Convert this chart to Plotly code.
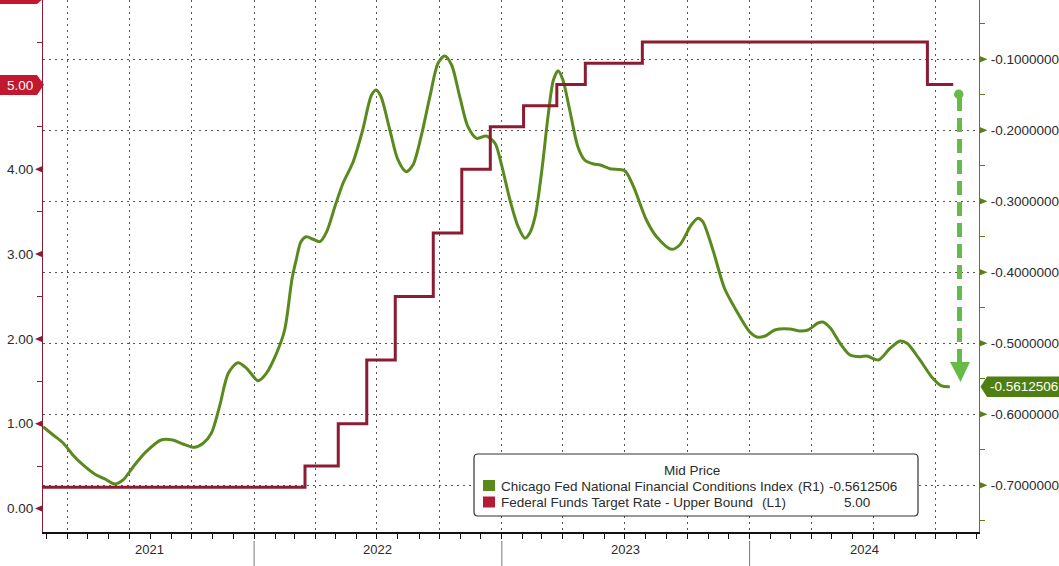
import plotly.graph_objects as go

# ---------------- data ----------------
nfci_dates = [
    "2021-02-24", "2021-03-11", "2021-03-26", "2021-04-09", "2021-04-24", "2021-05-11",
    "2021-05-26", "2021-06-10", "2021-06-22", "2021-07-07", "2021-07-26", "2021-08-17",
    "2021-09-03", "2021-09-18", "2021-10-05", "2021-10-18", "2021-10-30", "2021-11-11",
    "2021-11-24", "2021-12-08", "2021-12-21", "2022-01-07", "2022-01-19", "2022-02-03",
    "2022-02-15", "2022-02-26", "2022-03-04", "2022-03-11", "2022-03-19", "2022-03-29",
    "2022-04-08", "2022-04-18", "2022-04-30", "2022-05-12", "2022-05-27", "2022-06-10",
    "2022-06-23", "2022-06-30", "2022-07-07", "2022-07-20", "2022-08-01", "2022-08-13",
    "2022-08-23", "2022-09-04", "2022-09-17", "2022-09-29", "2022-10-09", "2022-10-19",
    "2022-10-31", "2022-11-12", "2022-11-25", "2022-12-09", "2022-12-22", "2022-12-31",
    "2023-01-13", "2023-01-25", "2023-02-04", "2023-02-11", "2023-02-19", "2023-03-01",
    "2023-03-10", "2023-03-18", "2023-03-25", "2023-04-01", "2023-04-11", "2023-04-23",
    "2023-05-03", "2023-05-16", "2023-05-26", "2023-06-09", "2023-07-01", "2023-07-14",
    "2023-08-02", "2023-08-17", "2023-09-08", "2023-09-20", "2023-10-07", "2023-10-17",
    "2023-10-24", "2023-11-08", "2023-11-25", "2023-12-12", "2024-01-01", "2024-01-12",
    "2024-01-24", "2024-02-07", "2024-02-29", "2024-03-15", "2024-03-27", "2024-04-11",
    "2024-04-18", "2024-04-29", "2024-05-13", "2024-05-28", "2024-06-12", "2024-06-22",
    "2024-07-09", "2024-07-26", "2024-08-10", "2024-08-20", "2024-09-08", "2024-09-25",
    "2024-10-10", "2024-10-22",
]
nfci_values = [
    -0.6175, -0.6292, -0.6408, -0.6573, -0.6714, -0.6841,
    -0.6911, -0.6982, -0.6925, -0.6738, -0.6527, -0.6362,
    -0.6362, -0.6418, -0.6465, -0.6408, -0.6268, -0.5893,
    -0.5423, -0.5273, -0.5352, -0.5527, -0.5423, -0.5141,
    -0.4813, -0.4085, -0.3827, -0.3569, -0.3499, -0.3535,
    -0.3569, -0.3428, -0.3076, -0.2746, -0.2442, -0.1996,
    -0.1503, -0.1432, -0.1527, -0.1996, -0.2418, -0.2583,
    -0.2489, -0.2090, -0.1527, -0.1056, -0.0954, -0.1080,
    -0.1527, -0.1949, -0.2113, -0.2080, -0.2183, -0.2465,
    -0.2982, -0.3358, -0.3521, -0.3451, -0.3217, -0.2559,
    -0.1808, -0.1292, -0.1161, -0.1292, -0.1714, -0.2231,
    -0.2418, -0.2475, -0.2489, -0.2541, -0.2569, -0.2794,
    -0.3263, -0.3499, -0.3676, -0.3615, -0.3334, -0.3239,
    -0.3287, -0.3686, -0.4225, -0.4531, -0.4837, -0.4911,
    -0.4897, -0.4813, -0.4799, -0.4827, -0.4813, -0.4714,
    -0.4700, -0.4785, -0.4996, -0.5165, -0.5189, -0.5179,
    -0.5235, -0.5070, -0.4968, -0.5000, -0.5235, -0.5470,
    -0.5601, -0.5612506,
]

fed_dates = ["2021-02-24", "2022-03-17", "2022-05-05", "2022-06-16", "2022-07-28",
             "2022-09-22", "2022-11-03", "2022-12-15", "2023-02-02", "2023-03-23",
             "2023-05-04", "2023-07-27", "2024-09-19", "2024-10-27"]
fed_values = [0.25, 0.50, 1.00, 1.75, 2.50, 3.25, 4.00, 4.50, 4.75, 5.00,
              5.25, 5.50, 5.00, 5.00]

left_ticks = [0, 1, 2, 3, 4, 5]
left_labeled = [0, 1, 2, 3, 4]          # 5.00 is shown by the last-value badge
right_ticks = [-0.1, -0.2, -0.3, -0.4, -0.5, -0.6, -0.7]
year_labels = ["2021", "2022", "2023", "2024"]
year_label_dates = ["2021-07-31", "2022-07-02", "2023-07-02", "2024-06-18"]
year_starts = ["2022-01-01", "2023-01-01", "2024-01-01"]
x_range = ["2021-02-24", "2024-12-04"]
left_range = [-0.277, 5.996]
right_range = [-0.7658, -0.01648]

last_nfci = -0.5612506
last_fed = 5.00
legend_title = "Mid Price"
nfci_name = "Chicago Fed National Financial Conditions Index"
fed_name = "Federal Funds Target Rate - Upper Bound"

# ---------------- styling ----------------
GREEN = "#5a8a1e"
GREEN_AX = "#5b7d1c"
RED = "#8c1c33"
RED_BADGE = "#c1172f"
ARROW = "#66bb48"
TXT = "#2b2b2b"
FONT = "Liberation Sans"
FS = 13.5

W, H = 1059, 566
ML, MR, MT, MB = 43, 80, 0, 34
PW = W - ML - MR
PH = H - MT - MB


def px(x):
    return (x - ML) / PW


def py(y):
    return 1 - (y - MT) / PH


fig = go.Figure()

fig.add_trace(go.Scatter(
    x=nfci_dates, y=nfci_values, mode="lines", yaxis="y",
    line=dict(color=GREEN, width=3, shape="spline", smoothing=0.8),
    showlegend=False, hoverinfo="skip"))

fig.add_trace(go.Scatter(
    x=fed_dates, y=fed_values, mode="lines", yaxis="y2",
    line=dict(color=RED, width=3, shape="hv"),
    showlegend=False, hoverinfo="skip"))

grid_dash = "2px,4px"

fig.update_layout(
    width=W, height=H,
    margin=dict(l=ML, r=MR, t=MT, b=MB, autoexpand=False),
    paper_bgcolor="white", plot_bgcolor="white",
    font=dict(family=FONT, size=FS, color=TXT),
    showlegend=False,
    xaxis=dict(
        type="date", range=x_range, automargin=False,
        showline=True, linecolor="#111111", linewidth=1.5,
        ticks="outside", ticklen=5, tickcolor="#111111", tickwidth=1,
        dtick="M3", tick0="2021-01-01",
        showgrid=True, gridcolor="#555555", gridwidth=1, griddash=grid_dash,
        showticklabels=False, zeroline=False,
        minor=dict(dtick="M1", ticks="outside", ticklen=5, tickcolor="#111111",
                   showgrid=False),
    ),
    yaxis=dict(
        side="right", range=right_range, automargin=False,
        tickvals=right_ticks,
        ticktext=[f"{v:.7f}" for v in right_ticks],
        ticks="", showline=True, linecolor=GREEN_AX, linewidth=1.2,
        showgrid=True, gridcolor="#555555", gridwidth=1, griddash=grid_dash,
        zeroline=False, ticklabelstandoff=8,
        minor=dict(dtick=0.05, ticks="outside", ticklen=5, tickcolor=GREEN_AX,
                   showgrid=False),
        tickfont=dict(family=FONT, size=FS, color=TXT),
    ),
    yaxis2=dict(
        side="left", overlaying="y", range=left_range, automargin=False,
        tickvals=left_labeled,
        ticktext=[f"{v:.2f}" for v in left_labeled],
        ticks="", showline=True, linecolor=RED, linewidth=1.2,
        showgrid=False, zeroline=False, ticklabelstandoff=6,
        minor=dict(dtick=0.5, ticks="outside", ticklen=5, tickcolor=RED,
                   showgrid=False),
        tickfont=dict(family=FONT, size=FS, color=TXT),
    ),
)

shapes = []
annotations = []


def text(x, y, s, color=TXT, anchor="left", size=FS, xref="paper"):
    annotations.append(dict(x=x, y=y, xref=xref, yref="paper", text=s,
                            showarrow=False, xanchor=anchor, yanchor="middle",
                            font=dict(family=FONT, size=size, color=color)))


# triangular tick markers on both value axes
r_half = 3.5 / (PH / (right_range[1] - right_range[0]))
for v in right_ticks:
    shapes.append(dict(type="path", xref="paper", yref="y",
                       path=f"M{px(979)},{v + r_half} L{px(987.5)},{v} L{px(979)},{v - r_half} Z",
                       fillcolor=GREEN_AX, line=dict(width=0), layer="above"))
l_half = 3.5 / (PH / (left_range[1] - left_range[0]))
for v in left_ticks:
    shapes.append(dict(type="path", xref="paper", yref="y2",
                       path=f"M{px(43)},{v + l_half} L{px(35)},{v} L{px(43)},{v - l_half} Z",
                       fillcolor=RED, line=dict(width=0), layer="above"))

# year labels & separators under the axis
for lab, d in zip(year_labels, year_label_dates):
    text(d, py(549), lab, anchor="center", size=13, xref="x")
for d in year_starts:
    shapes.append(dict(type="line", xref="x", yref="paper", x0=d, x1=d,
                       y0=py(541), y1=py(570), line=dict(color="#777777", width=1)))

# dashed green arrow (annotation)
shapes.append(dict(type="line", xref="paper", yref="paper",
                   x0=px(959.5), x1=px(959.5), y0=py(97), y1=py(366),
                   line=dict(color=ARROW, width=5, dash="14px,7px")))
shapes.append(dict(type="circle", xref="paper", yref="paper",
                   x0=px(954), x1=px(963.5), y0=py(89.5), y1=py(99),
                   fillcolor=ARROW, line=dict(color=ARROW, width=0)))
shapes.append(dict(type="path", xref="paper", yref="paper",
                   path=f"M{px(950)},{py(362)} L{px(970)},{py(362)} L{px(960.5)},{py(382)} Z",
                   fillcolor=ARROW, line=dict(color=ARROW, width=0)))

# last-value badges
shapes.append(dict(type="path", xref="paper", yref="paper",
                   path=(f"M{px(0)},{py(75)} L{px(37)},{py(75)} L{px(44)},{py(84.8)} "
                         f"L{px(37)},{py(95)} L{px(0)},{py(95)} Z"),
                   fillcolor=RED_BADGE, line=dict(width=0), layer="above"))
text(px(20), py(85), f"{last_fed:.2f}", color="white", anchor="center")
# sliver of a badge cut off at the very top-left
shapes.append(dict(type="path", xref="paper", yref="paper",
                   path=(f"M{px(0)},{py(-12)} L{px(37)},{py(-12)} L{px(44)},{py(-2)} "
                         f"L{px(37)},{py(4)} L{px(0)},{py(4)} Z"),
                   fillcolor=RED_BADGE, line=dict(width=0), layer="above"))
shapes.append(dict(type="path", xref="paper", yref="paper",
                   path=(f"M{px(980.5)},{py(386.8)} L{px(987)},{py(376.5)} L{px(1060)},{py(376.5)} "
                         f"L{px(1060)},{py(397)} L{px(987)},{py(397)} Z"),
                   fillcolor="#4f7f12", line=dict(width=0), layer="above"))
text(px(988), py(387), f"{last_nfci:.7f}", color="white")

# legend box
x0, x1, y0, y1, r = 474, 918, 454, 516, 4
shapes.append(dict(type="path", xref="paper", yref="paper",
                   path=(f"M{px(x0+r)},{py(y0)} L{px(x1-r)},{py(y0)} Q{px(x1)},{py(y0)} {px(x1)},{py(y0+r)} "
                         f"L{px(x1)},{py(y1-r)} Q{px(x1)},{py(y1)} {px(x1-r)},{py(y1)} "
                         f"L{px(x0+r)},{py(y1)} Q{px(x0)},{py(y1)} {px(x0)},{py(y1-r)} "
                         f"L{px(x0)},{py(y0+r)} Q{px(x0)},{py(y0)} {px(x0+r)},{py(y0)} Z"),
                   fillcolor="white", line=dict(color="#333333", width=1.2), layer="above"))
text(px(692), py(470), legend_title, anchor="center")
for yy, col, name, tag, tag_x, val, val_x in [
        (486, GREEN, nfci_name, "(R1)", 796, f"{last_nfci:.7f}", 827),
        (502.5, "#b31c34", fed_name, "(L1)", 760, f"{last_fed:.2f}", 842)]:
    shapes.append(dict(type="rect", xref="paper", yref="paper",
                       x0=px(483), x1=px(495), y0=py(yy - 6), y1=py(yy + 5),
                       fillcolor=col, line=dict(width=0), layer="above"))
    text(px(499), py(yy), name)
    text(px(tag_x), py(yy), tag)
    text(px(val_x), py(yy), val)

fig.update_layout(shapes=shapes, annotations=annotations)

fig.write_html("out.html",
               config={"displayModeBar": False},
               post_script="document.body.style.margin='0';document.body.style.padding='0';")
